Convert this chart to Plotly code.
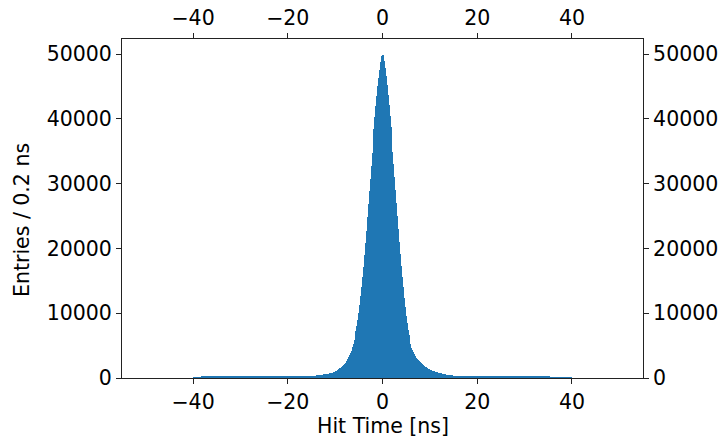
import plotly.graph_objects as go

# Histogram of hit times, 0.2 ns bins, first bin edge at -40 ns
bin_start = -40.0
bin_width = 0.2

counts = [
    # -40 .. -20
    30, 50, 70, 88, 104, 118, 130, 141, 150, 158,
    165, 171, 177, 182, 186, 190, 194, 197, 200, 203,
    205, 207, 209, 211, 213, 214, 216, 217, 218, 219,
    220, 221, 222, 223, 224, 224, 225, 226, 227, 228,
    228, 229, 230, 230, 231, 231, 232, 232, 233, 233,
    233, 234, 234, 234, 235, 235, 235, 235, 236, 236,
    236, 236, 236, 235, 235, 235, 235, 234, 234, 234,
    233, 233, 232, 232, 231, 231, 230, 229, 229, 228,
    227, 226, 226, 225, 224, 223, 222, 221, 221, 220,
    219, 218, 218, 217, 217, 216, 216, 216, 216, 216,
    # -20 .. 0
    216, 217, 217, 218, 219, 220, 221, 223, 225, 227,
    229, 232, 235, 238, 242, 246, 251, 256, 262, 268,
    275, 283, 291, 300, 310, 320, 331, 343, 356, 370,
    390, 405, 421, 438, 456, 475, 496, 518, 542, 568,
    598, 626, 656, 688, 722, 758, 797, 838, 882, 936,
    1040, 1120, 1205, 1295, 1390, 1490, 1600, 1720, 1850, 1990,
    2130, 2370, 2640, 2920, 3210, 3520, 3860, 4240, 4720, 5250,
    5800, 6450, 7200, 8050, 9000, 10100, 11300, 12650, 14050, 15550,
    17150, 18950, 20800, 22750, 24800, 26800, 28800, 30800, 32800, 34750,
    36650, 38500, 40300, 41950, 43550, 45050, 46400, 47600, 48750, 49650,
    # 0 .. 20
    49850, 48900, 47800, 46600, 45200, 43700, 42100, 40450, 38700, 36850,
    34950, 33000, 31000, 29000, 27000, 25000, 23000, 21000, 19100, 17300,
    15650, 14000, 12400, 11000, 9600, 8450, 7450, 6600, 5850, 5200,
    4700, 4300, 3950, 3650, 3380, 3150, 2940, 2750, 2570, 2400,
    2240, 2090, 1950, 1840, 1740, 1650, 1560, 1480, 1400, 1330,
    1270, 1210, 1150, 1090, 1030, 975, 920, 870, 820, 775,
    740, 700, 665, 630, 600, 570, 545, 520, 497, 475,
    450, 428, 408, 390, 373, 357, 342, 329, 317, 306,
    296, 287, 279, 272, 266, 260, 255, 250, 246, 242,
    239, 236, 233, 231, 229, 227, 225, 224, 223, 222,
    # 20 .. 40
    221, 220, 219, 219, 218, 218, 217, 217, 216, 216,
    216, 215, 215, 215, 214, 214, 214, 213, 213, 213,
    212, 212, 212, 211, 211, 211, 210, 210, 210, 209,
    209, 209, 208, 208, 207, 207, 207, 206, 206, 205,
    205, 204, 204, 203, 203, 202, 202, 201, 200, 200,
    199, 198, 197, 196, 195, 194, 193, 192, 191, 190,
    189, 187, 186, 184, 183, 181, 179, 177, 175, 173,
    171, 169, 166, 163, 161, 158, 155, 152, 149, 145,
    142, 138, 134, 130, 126, 121, 116, 111, 106, 100,
    94, 88, 82, 75, 68, 60, 52, 43, 33, 20,
]

x_tick_vals = [-40, -20, 0, 20, 40]
y_tick_vals = [0, 10000, 20000, 30000, 40000, 50000]
x_range = [-55, 55]
y_range = [0, 52345]

x_label = "Hit Time [ns]"
y_label = "Entries / 0.2 ns"

centers = [bin_start + bin_width * (i + 0.5) for i in range(len(counts))]

FONT = "DejaVu Sans"
FS = 20.5

fig = go.Figure()
fig.add_trace(go.Bar(
    x=centers, y=counts, width=[bin_width] * len(counts),
    marker=dict(color="#1f77b4", line=dict(width=0)),
    showlegend=False, hoverinfo="x+y",
))
# empty trace so that the secondary (top / right) axes are drawn
fig.add_trace(go.Scatter(x=[None], y=[None], xaxis="x2", yaxis="y2",
                         mode="markers", showlegend=False, hoverinfo="skip"))

axis_common = dict(
    ticks="outside", ticklen=5, tickwidth=1, tickcolor="#222",
    showgrid=False, zeroline=False, automargin=False,
    tickfont=dict(family=FONT, size=FS, color="black"),
)

fig.update_layout(
    width=724, height=437,
    margin=dict(l=122, r=81, t=39, b=59, pad=0, autoexpand=False),
    paper_bgcolor="white", plot_bgcolor="white",
    bargap=0,
    font=dict(family=FONT, size=FS, color="black"),
    xaxis=dict(range=x_range, tickvals=x_tick_vals, showline=True, linecolor="#222",
               linewidth=1, mirror=True, **axis_common),
    yaxis=dict(range=y_range, tickvals=y_tick_vals, tickformat="d", showline=True,
               linecolor="#222", linewidth=1, mirror=True, **axis_common),
    xaxis2=dict(range=x_range, tickvals=x_tick_vals, overlaying="x", side="top",
                showline=False, anchor="y", **axis_common),
    yaxis2=dict(range=y_range, tickvals=y_tick_vals, tickformat="d", overlaying="y",
                side="right", showline=False, anchor="x", **axis_common),
    annotations=[
        dict(text=x_label, xref="paper", yref="paper", x=0.5, y=0, yshift=-48,
             showarrow=False, xanchor="center", yanchor="middle",
             font=dict(family=FONT, size=FS, color="black")),
        dict(text=y_label, xref="paper", yref="paper", x=0, y=0.466, xshift=-100,
             showarrow=False, textangle=-90, xanchor="center", yanchor="middle",
             font=dict(family=FONT, size=FS, color="black")),
    ],
)

fig.write_html("out.html")
